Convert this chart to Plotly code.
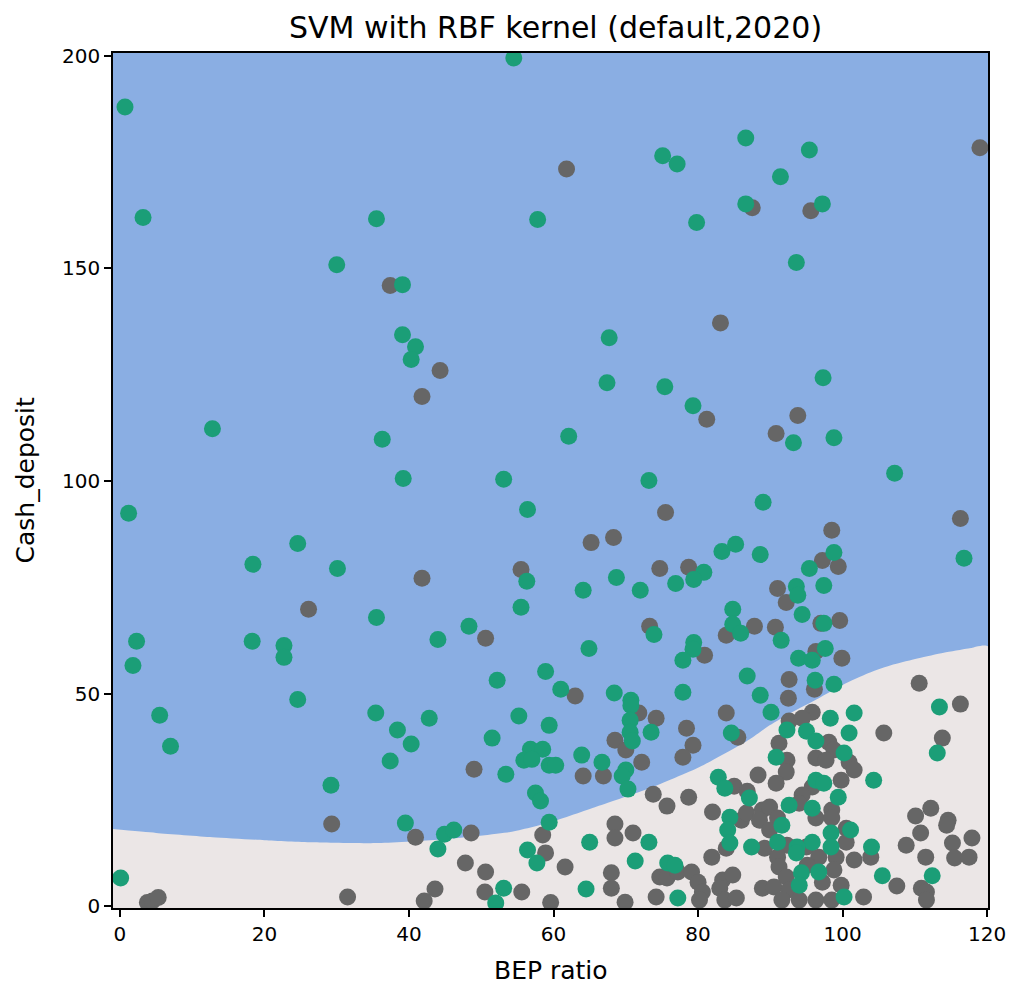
import plotly.graph_objects as go

# ---------------- data ----------------
title_text = "SVM with RBF kernel (default,2020)"
x_label = "BEP ratio"
y_label = "Cash_deposit"
x_ticks = [0, 20, 40, 60, 80, 100, 120]
y_ticks = [0, 50, 100, 150, 200]
x_range = [-0.96, 120.12]
y_range = [-0.47, 200.7]

# decision boundary (lower class region lies below this curve)
boundary_x = [-1, 5, 12.8, 20, 26.6, 35.8, 44.9, 54, 59.6, 66, 73.3, 80.2, 87.1,
              89.9, 93, 96.7, 100, 103.6, 107, 110.5, 114, 117.4, 120.12]
boundary_y = [18.1, 17.2, 16.2, 15.5, 15.0, 14.8, 15.7, 17.4, 19.7, 23.4, 27.7, 32.7, 39.2,
              42.5, 45.6, 48.9, 52.0, 54.8, 56.8, 58.3, 59.6, 60.6, 61.1]

green_x = [54.5, 0.7, 3.2, 35.5, 57.8, 30.0, 39.1, 39.1, 40.9, 40.3, 12.8, 36.3, 39.2, 53.1,
           75.1, 77.1, 86.6, 95.4, 91.4, 86.6, 97.2, 79.8, 93.6, 67.7, 67.4, 75.4, 97.3, 79.3,
           93.2, 98.8, 62.1, 107.2, 73.2,
           1.2, 24.6, 56.4, 18.4, 30.1, 56.3, 55.5, 35.5, 48.3, 44.0, 2.3, 18.3, 22.7, 22.7,
           1.8, 58.9, 52.2, 24.6, 5.5, 35.4, 42.8, 55.2, 59.4, 7.0, 38.4, 40.3, 51.5, 37.4,
           56.8, 58.5, 55.9, 57.0, 53.4, 59.4, 29.2, 57.5, 58.2, 39.5, 44.9, 46.2, 44.0, 59.4,
           56.4, 57.7, 0.1, 53.1, 52.0,
           89.0, 83.3, 85.2, 88.6, 80.8, 79.4, 68.7, 76.9, 72.0, 64.1, 84.8, 84.8, 85.9, 73.9,
           79.4, 79.3, 77.9, 64.9, 86.8, 61.0, 68.4, 70.7, 77.9, 88.6,
           116.8, 98.8, 95.4, 93.6, 93.8, 97.4, 94.4, 97.4, 91.5, 97.6, 93.9, 95.8, 96.2, 98.8,
           70.7, 70.6, 73.5, 70.6, 70.9, 63.9, 66.7, 60.3, 70.0, 69.5, 70.3, 84.6, 82.8, 83.7,
           87.1, 84.4, 84.1, 84.4, 87.4, 65.0, 73.2, 71.3, 64.5, 75.8, 76.8, 77.2,
           90.1, 98.3, 101.6, 92.3, 95.0, 96.3, 100.9, 100.2, 90.8, 96.3, 97.4, 104.3, 99.4,
           92.6, 95.8, 91.6, 101.1, 98.4, 95.8, 104.0, 91.0, 93.7, 98.4, 93.6, 96.7, 94.3,
           105.5, 94.0, 100.2,
           113.4, 113.1, 112.4]
green_y = [199.5, 188.0, 162.0, 161.7, 161.5, 150.9, 146.2, 134.4, 131.6, 128.6, 112.3, 109.8, 100.6, 100.4,
           176.5, 174.6, 180.7, 177.9, 171.6, 165.2, 165.2, 160.8, 151.4, 133.7, 123.1, 122.2, 124.3, 117.7,
           109.0, 110.2, 110.5, 101.8, 100.1,
           92.4, 85.3, 93.3, 80.4, 79.4, 76.4, 70.3, 67.9, 65.8, 62.7, 62.3, 62.3, 61.3, 58.5,
           56.6, 55.2, 53.1, 48.6, 44.9, 45.4, 44.2, 44.7, 42.5, 37.6, 41.4, 38.1, 39.5, 34.1,
           36.9, 36.9, 34.3, 34.5, 31.0, 33.1, 28.4, 26.6, 24.7, 19.5, 16.9, 17.9, 13.4, 19.7,
           13.2, 10.1, 6.6, 4.2, 0.7,
           95.0, 83.4, 85.1, 82.7, 78.5, 76.8, 77.3, 75.9, 74.3, 74.3, 69.8, 66.3, 64.2, 63.9,
           62.0, 60.4, 57.8, 60.6, 54.1, 51.0, 50.1, 48.4, 50.3, 49.6,
           81.8, 83.2, 79.4, 75.2, 73.1, 75.4, 68.6, 66.5, 62.5, 60.6, 58.3, 57.8, 53.1, 52.2,
           47.2, 43.7, 40.9, 40.9, 38.8, 35.5, 33.8, 33.1, 32.0, 30.6, 27.5, 40.7, 30.3, 27.7,
           25.4, 20.9, 17.9, 14.8, 13.9, 15.0, 15.0, 10.6, 4.0, 10.1, 9.6, 1.9,
           45.6, 44.2, 45.4, 41.4, 41.1, 38.8, 40.7, 36.0, 35.0, 29.6, 28.9, 29.6, 25.6,
           23.7, 23.0, 19.0, 17.9, 17.2, 15.0, 13.9, 15.0, 13.9, 13.9, 12.5, 8.0, 7.8,
           7.1, 4.9, 2.1,
           46.8, 36.0, 7.1]

gray_x = [37.4, 44.3, 41.8,
          61.8, 119.0, 87.5, 95.6, 83.1, 81.2, 93.8, 90.8,
          41.8, 55.5, 26.1, 50.6, 49.0, 29.3, 40.9, 48.6, 58.5, 58.9, 47.8, 50.6,
          3.8, 4.5, 5.3, 31.5, 43.6, 42.1, 50.5, 55.6, 59.6,
          75.5, 65.2, 68.3, 74.7, 78.7, 83.9, 87.8, 73.3, 80.9, 63.0,
          116.3, 98.5, 97.2, 99.4, 91.0, 92.2, 90.7, 97.0, 99.6, 96.3, 99.9, 92.6, 96.1, 92.5,
          110.6, 116.3,
          71.8, 74.2, 68.5, 70.0, 72.2, 64.1, 66.9, 83.9, 78.4, 79.3, 77.9, 85.5, 73.8, 75.7,
          78.7, 85.0, 86.8, 88.3, 82.0, 86.0, 86.7, 88.9, 88.5, 83.9, 89.2, 81.9, 68.5, 68.5,
          71.0, 61.6, 68.0, 68.0, 69.9, 74.7, 75.7, 77.2, 79.1, 80.0, 80.6, 74.2, 80.2, 83.4,
          84.8, 83.0, 83.7, 85.3, 88.9,
          95.8, 92.6, 94.4, 91.2, 98.1, 98.8, 92.3, 96.3, 97.7, 100.9, 101.6, 92.2, 99.8, 90.8,
          95.8, 94.4, 89.9, 94.0, 98.5, 91.0, 96.3, 98.5, 100.5, 89.9, 100.5, 95.0, 92.3, 91.0,
          96.7, 99.1, 101.6, 103.9, 95.1, 91.2, 92.2, 98.8, 97.2, 99.8, 90.5, 92.6, 102.9,
          96.3, 98.5, 94.0, 91.6,
          105.7, 113.8, 112.2, 110.1, 114.6, 114.4, 110.8, 117.9, 108.8, 115.2, 111.5, 115.5,
          117.5, 107.5, 110.9, 111.6, 111.6]
gray_y = [146.0, 126.0, 119.9,
          173.4, 178.4, 164.3, 163.6, 137.2, 114.5, 115.4, 111.2,
          77.1, 79.2, 69.8, 63.0, 32.2, 19.3, 16.2, 17.2, 16.7, 12.5, 10.1, 8.0,
          0.8, 1.2, 2.0, 2.1, 4.0, 1.2, 3.3, 3.3, 0.8,
          92.6, 85.5, 86.7, 79.4, 79.7, 63.7, 65.8, 65.8, 59.0, 49.4,
          91.2, 88.4, 81.3, 79.9, 74.7, 71.4, 65.6, 66.5, 67.2, 59.9, 58.3, 53.3, 51.0, 48.9,
          52.4, 47.5,
          45.4, 44.2, 39.0, 36.7, 33.8, 30.6, 30.6, 45.4, 41.8, 37.8, 35.0, 39.7, 26.3, 23.5,
          25.6, 28.2, 27.0, 30.8, 22.1, 20.2, 21.9, 22.6, 20.2, 13.6, 13.6, 11.5, 19.3, 16.0,
          17.2, 9.2, 7.8, 4.2, 0.9, 6.8, 6.6, 8.0, 8.0, 5.6, 3.3, 2.1, 1.4, 6.1,
          7.3, 4.2, 1.4, 1.9, 4.2,
          45.6, 43.5, 44.2, 38.3, 38.5, 36.7, 34.3, 34.8, 34.3, 33.8, 32.0, 31.5, 29.6, 28.9,
          28.0, 26.1, 23.3, 24.2, 22.6, 20.7, 20.7, 20.7, 18.3, 17.9, 15.0, 13.9, 14.3, 11.5,
          11.5, 11.5, 10.8, 11.5, 9.6, 9.2, 6.8, 8.5, 5.6, 4.9, 4.5, 3.8, 2.1,
          1.4, 1.4, 1.4, 1.4,
          40.7, 39.5, 23.0, 21.2, 20.2, 19.0, 17.2, 16.0, 14.3, 14.8, 11.5, 11.3,
          11.5, 4.7, 4.2, 3.3, 1.4]

# ---------------- styles ----------------
BLUE = "#8aaee3"
PINK = "#ebe6e6"
GREEN = "#1b9e77"
GRAY = "#666666"
FONT = "DejaVu Sans"

fig = go.Figure()

# lower decision region polygon (boundary curve closed along the bottom of the axes)
poly_x = boundary_x + [x_range[1], x_range[0]]
poly_y = boundary_y + [y_range[0], y_range[0]]
fig.add_trace(go.Scatter(x=poly_x, y=poly_y, mode="lines", fill="toself",
                         fillcolor=PINK, line=dict(width=0, color=PINK, shape="spline", smoothing=0.6),
                         hoverinfo="skip", showlegend=False))

fig.add_trace(go.Scatter(x=gray_x, y=gray_y, mode="markers",
                         marker=dict(size=17, color=GRAY, line=dict(width=0)),
                         showlegend=False))
fig.add_trace(go.Scatter(x=green_x, y=green_y, mode="markers",
                         marker=dict(size=17, color=GREEN, line=dict(width=0)),
                         showlegend=False))

axis_common = dict(showgrid=False, zeroline=False, showline=True, linecolor="black",
                   linewidth=1.6, mirror=True, ticks="outside", ticklen=7, tickwidth=1.6,
                   tickcolor="black", tickfont=dict(family=FONT, size=20, color="black"))

fig.update_xaxes(range=x_range, tickvals=x_ticks, **axis_common)
fig.update_yaxes(range=y_range, tickvals=y_ticks, **axis_common)

fig.update_layout(
    width=1018, height=984,
    margin=dict(l=113, r=21, t=53, b=76),
    plot_bgcolor=BLUE, paper_bgcolor="white",
    font=dict(family=FONT, size=20, color="black"),
    title=dict(text=title_text, x=0.5457, xanchor="center", y=1 - 27 / 984, yanchor="middle",
               yref="container", font=dict(family=FONT, size=30, color="black")),
    annotations=[
        dict(text=x_label, xref="paper", yref="paper", x=0.5, y=0, xanchor="center",
             yanchor="middle", yshift=-62, showarrow=False,
             font=dict(family=FONT, size=25, color="black")),
        dict(text=y_label, xref="paper", yref="paper", x=0, y=0.5, xanchor="center",
             yanchor="middle", xshift=-88, textangle=-90, showarrow=False,
             font=dict(family=FONT, size=25, color="black")),
    ],
)

fig.write_html("out.html", config={"displayModeBar": False},
               post_script="document.body.style.margin='0';")
